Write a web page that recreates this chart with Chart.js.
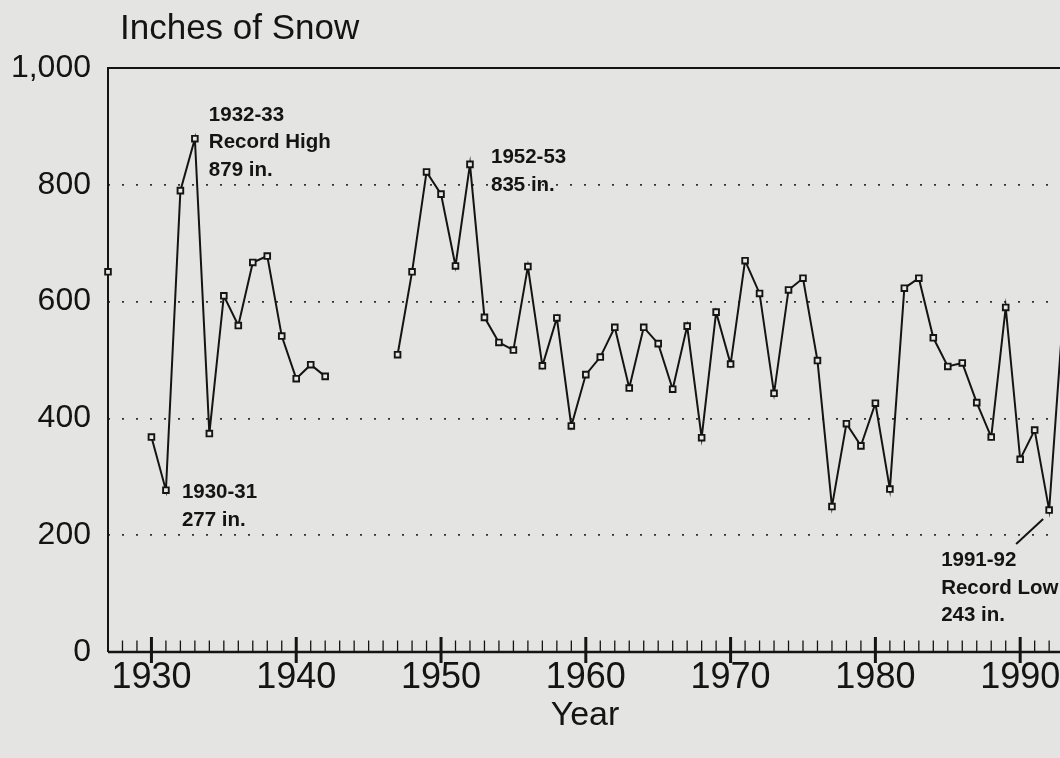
<!DOCTYPE html>
<html>
<head>
<meta charset="utf-8">
<title>Inches of Snow</title>
<script src="https://cdn.jsdelivr.net/npm/chart.js@4.4.1/dist/chart.umd.min.js"></script>
<style>
  html, body { margin:0; padding:0; background:#e4e4e2; }
  #wrapper { width:1060px; height:758px; position:relative; }
</style>
</head>
<body>
<div id="wrapper"><canvas id="snow" width="1060" height="758"></canvas></div>
<script>
// winter seasons, plotted at the year the season ends
const years = [1927,1928,1929,1930,1931,1932,1933,1934,1935,1936,1937,1938,1939,1940,1941,1942,
  1943,1944,1945,1946,1947,1948,1949,1950,1951,1952,1953,1954,1955,1956,1957,1958,1959,1960,
  1961,1962,1963,1964,1965,1966,1967,1968,1969,1970,1971,1972,1973,1974,1975,1976,1977,1978,
  1979,1980,1981,1982,1983,1984,1985,1986,1987,1988,1989,1990,1991,1992,1993];
const snow = [651,null,null,368,277,790,879,374,610,559,667,678,541,468,492,472,
  null,null,null,null,509,651,822,784,661,835,573,530,517,660,490,572,387,475,
  505,556,452,556,528,450,558,367,582,493,670,614,443,620,640,499,249,391,
  353,426,279,623,640,538,489,495,427,368,590,330,380,243,590];
const yTicks = [0,200,400,600,800,1000];
const decades = [1930,1940,1950,1960,1970,1980,1990];
const notes = [
  {year:1933, lines:["1932-33","Record High","879 in."]},
  {year:1952, lines:["1952-53","835 in."]},
  {year:1931, lines:["1930-31","277 in."]},
  {year:1992, lines:["1991-92","Record Low","243 in."]}
];

const FONT = '"Liberation Sans", Arial, sans-serif';
const INK = '#141414';

// where each note's text sits relative to its point (px)
const noteOffsets = {1933:[14,-18], 1952:[21,-1], 1931:[16,8], 1992:[-108,56]};

const frame = {
  id:'frame',
  beforeDatasetsDraw(chart){
    const {ctx, chartArea:a, scales:{x}} = chart;
    ctx.save();
    ctx.strokeStyle = INK;
    ctx.lineWidth = 2;
    ctx.beginPath();
    ctx.moveTo(a.left, a.bottom);
    ctx.lineTo(a.left, a.top);
    ctx.lineTo(a.right, a.top);
    ctx.stroke();
    ctx.lineWidth = 2.4;
    ctx.beginPath();
    ctx.moveTo(a.left, a.bottom);
    ctx.lineTo(a.right, a.bottom);
    ctx.stroke();
    // one tick per year, long ones on the decades
    for (let yr = Math.ceil(x.min); yr <= x.max; yr++) {
      const px = x.getPixelForValue(yr);
      const major = decades.includes(yr);
      ctx.lineWidth = major ? 3 : 1.3;
      ctx.beginPath();
      ctx.moveTo(px, major ? a.bottom + 11 : a.bottom);
      ctx.lineTo(px, a.bottom - (major ? 15 : 11.5));
      ctx.stroke();
    }
    ctx.restore();
  },
  afterDraw(chart){
    const {ctx, scales:{x, y}} = chart;
    ctx.save();
    ctx.fillStyle = INK;
    ctx.textBaseline = 'alphabetic';
    ctx.font = '35px ' + FONT;
    ctx.textAlign = 'left';
    ctx.fillText('Inches of Snow', 120, 39);
    ctx.font = '34px ' + FONT;
    ctx.textAlign = 'center';
    ctx.fillText('Year', 585, 725);

    ctx.textAlign = 'left';
    ctx.font = 'bold 20.5px ' + FONT;
    notes.forEach(n => {
      const i = years.indexOf(n.year);
      const px = x.getPixelForValue(n.year);
      const py = y.getPixelForValue(snow[i]);
      const off = noteOffsets[n.year];
      n.lines.forEach((t, k) => ctx.fillText(t, px + off[0], py + off[1] + k * 27.5));
    });
    // leader line for the record low
    const lx = x.getPixelForValue(1992), ly = y.getPixelForValue(243);
    ctx.strokeStyle = INK;
    ctx.lineWidth = 2;
    ctx.beginPath();
    ctx.moveTo(lx - 6, ly + 9);
    ctx.lineTo(lx - 33, ly + 34);
    ctx.stroke();
    ctx.restore();
  }
};

const points = years.map((yr, i) => ({x: yr, y: snow[i]}));
const ctx = document.getElementById('snow').getContext('2d');
const snowChart = new Chart(ctx, {
  type: 'line',
  data: {
    datasets: [{
      data: points,
      borderColor: INK,
      borderWidth: 2,
      tension: 0,
      spanGaps: false,
      pointStyle: 'rect',
      pointRadius: c => (c.raw && c.raw.x > 1992.75) ? 0 : 4,
      pointBorderWidth: 1.9,
      pointBorderColor: INK,
      pointBackgroundColor: '#e9e9e7',
      clip: {left: 8, top: 8, right: 0, bottom: 8}
    }]
  },
  options: {
    responsive: false,
    animation: false,
    layout: {autoPadding: false, padding: {top: 68, left: 0, right: 0, bottom: 0}},
    plugins: {legend: {display: false}, tooltip: {enabled: false}},
    scales: {
      x: {
        type: 'linear',
        min: 1927,
        max: 1992.75,
        afterFit: s => { s.height = 106; s.paddingLeft = 0; s.paddingRight = 0; },
        afterBuildTicks: s => {
          const t = [];
          for (let yr = 1927; yr <= 1992; yr++) t.push({value: yr});
          s.ticks = t;
        },
        grid: {display: false},
        border: {display: false},
        ticks: {
          autoSkip: false,
          maxRotation: 0,
          padding: -4,
          color: INK,
          font: {family: FONT, size: 36},
          callback: v => decades.includes(v) ? String(v) : ''
        }
      },
      y: {
        min: 0,
        max: 1000,
        afterFit: s => { s.width = 108; s.paddingTop = 0; s.paddingBottom = 0; },
        afterBuildTicks: s => { s.ticks = yTicks.map(v => ({value: v})); },
        grid: {
          color: c => (c.tick && c.tick.value > 0 && c.tick.value < 1000) ? '#333' : 'rgba(0,0,0,0)',
          lineWidth: 1.7,
          drawTicks: false
        },
        border: {display: false, dash: [2, 12]},
        ticks: {
          padding: 17,
          color: INK,
          font: {family: FONT, size: 32},
          callback: v => v.toLocaleString('en-US')
        }
      }
    }
  },
  plugins: [frame]
});
</script>
</body>
</html>
